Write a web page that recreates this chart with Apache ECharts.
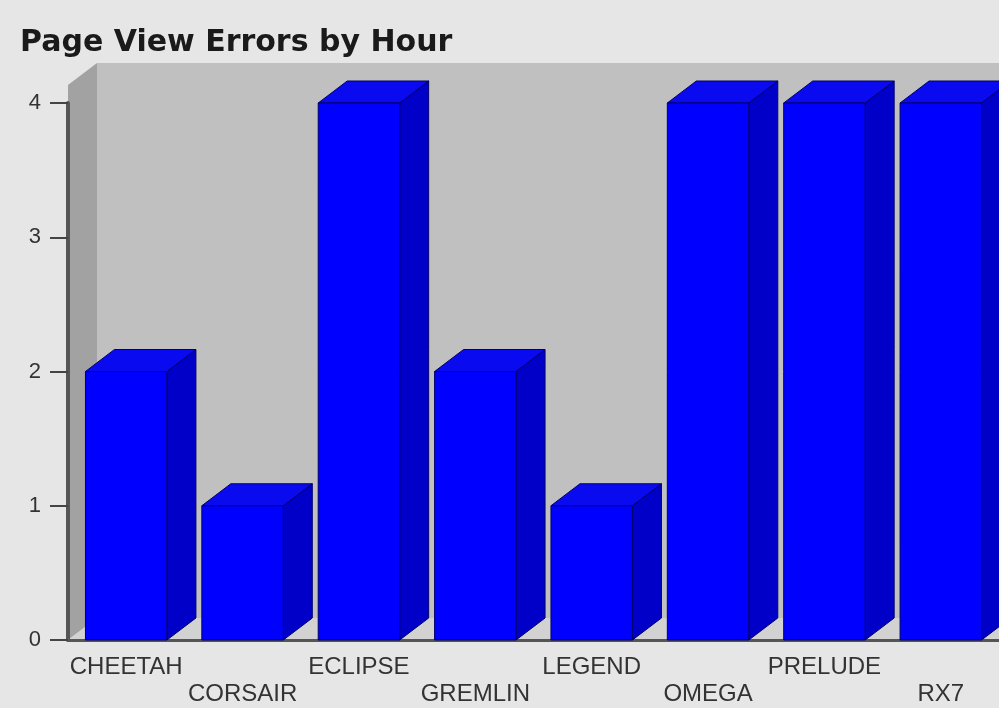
<!DOCTYPE html>
<html><head><meta charset="utf-8">
<script src="https://cdn.jsdelivr.net/npm/echarts@6/dist/echarts.min.js"></script>
<style>html,body{margin:0;padding:0;background:#e6e6e6}#c{width:999px;height:708px}</style>
</head><body><div id="c"></div>
<script>
const titleText = 'Page View Errors by Hour';
const categories = ['CHEETAH','CORSAIR','ECLIPSE','GREMLIN','LEGEND','OMEGA','PRELUDE','RX7'];
const values = [2,1,4,2,1,4,4,4];
const yTicks = [0,1,2,3,4];

const DX = 29, DY = -22;
const chart = echarts.init(document.getElementById('c'));

function renderWalls(params, api) {
  const cs = params.coordSys;
  const x0 = cs.x, y0 = cs.y + cs.height, top = cs.y - 18, right = cs.x + cs.width + 40;
  return {
    type: 'group',
    children: [
      { type: 'rect', shape: { x: x0 + DX, y: top + DY, width: right - x0, height: y0 - top }, style: { fill: '#c0c0c0' } },
      { type: 'polygon', shape: { points: [[x0, y0], [x0, top], [x0 + DX, top + DY], [x0 + DX, y0 + DY]] }, style: { fill: '#a2a2a2' } },
      { type: 'polygon', shape: { points: [[x0, y0], [x0 + DX, y0 + DY], [right, y0 + DY], [right, y0]] }, style: { fill: '#d2d2d2' } }
    ]
  };
}

function renderBar(params, api) {
  const idx = api.value(0), v = api.value(1);
  const p = api.coord([idx, v]);
  const b = api.coord([idx, 0]);
  const w = api.size([1, 0])[0] * 0.70;
  const x0 = p[0] - w / 2, x1 = p[0] + w / 2, yt = p[1], yb = b[1];
  const stroke = { stroke: '#00006a', lineWidth: 1 };
  return {
    type: 'group',
    children: [
      { type: 'polygon', shape: { points: [[x1, yt], [x1 + DX, yt + DY], [x1 + DX, yb + DY], [x1, yb]] }, style: Object.assign({ fill: '#0000c8' }, stroke) },
      { type: 'polygon', shape: { points: [[x0, yt], [x0 + DX, yt + DY], [x1 + DX, yt + DY], [x1, yt]] }, style: Object.assign({ fill: '#0a0af0' }, stroke) },
      { type: 'rect', shape: { x: x0, y: yt, width: w, height: yb - yt }, style: Object.assign({ fill: '#0000ff' }, stroke) }
    ]
  };
}

chart.setOption({
  backgroundColor: '#e6e6e6',
  animation: false,
  title: {
    text: titleText, left: 15, top: 23,
    textStyle: { fontFamily: 'DejaVu Sans', fontWeight: 'bold', fontSize: 30, color: '#1a1a1a' }
  },
  grid: { left: 68, right: 0, top: 103, bottom: 65, containLabel: false },
  xAxis: {
    type: 'category', data: categories,
    axisLine: { show: true, lineStyle: { color: '#555', width: 3 } },
    axisTick: { show: false },
    axisLabel: {
      interval: 0, margin: 14, lineHeight: 27,
      fontFamily: 'Liberation Sans, Arial', fontSize: 24, color: '#333',
      formatter: (v, i) => (i % 2 ? '\n' + v : v)
    }
  },
  yAxis: {
    type: 'value', min: yTicks[0], max: yTicks[yTicks.length - 1], interval: 1,
    axisLine: { show: true, lineStyle: { color: '#555', width: 4 } },
    axisTick: { show: true, length: 18, lineStyle: { color: '#444', width: 2 } },
    axisLabel: { margin: 27, fontFamily: 'Liberation Sans, Arial', fontSize: 22, color: '#333' },
    splitLine: { show: false }
  },
  series: [
    { type: 'custom', renderItem: renderWalls, data: [[0, 0]], clip: false, silent: true, z: 0 },
    { type: 'custom', renderItem: renderBar, data: values.map((v, i) => [i, v]), clip: false, z: 2 }
  ]
});
</script></body></html>
